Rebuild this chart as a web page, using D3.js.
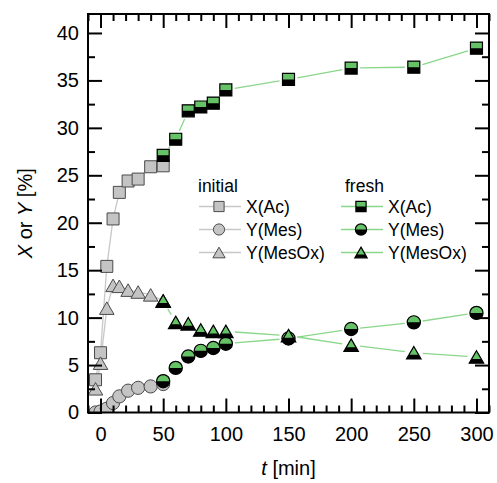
<!DOCTYPE html>
<html><head><meta charset="utf-8">
<script src="https://cdn.jsdelivr.net/npm/d3@7"></script>
<style>
body{margin:0;background:#fff;}
text{font-family:"Liberation Sans",Arial,sans-serif;}
</style></head>
<body><div id="chart"></div>
<script>
// ---- data ----
const timesInit = [-4, 0, 5, 10, 15, 22, 30, 40, 50];
const xAcInit = [3.45, 6.3, 15.4, 20.4, 23.2, 24.4, 24.6, 25.9, 26.0];
const yMesInit = [0, 0.1, 0.4, 1.0, 1.7, 2.3, 2.6, 2.75, 3.0];
const yMesOxInit = [2.5, 5.2, 11.0, 13.4, 13.3, 12.9, 12.7, 12.4, 11.8];

const timesFresh = [50, 60, 70, 80, 90, 100, 150, 200, 250, 300];
const xAcFresh = [27.1, 28.8, 31.8, 32.2, 32.6, 34.0, 35.1, 36.3, 36.4, 38.4];
const yMesFresh = [3.3, 4.7, 5.9, 6.5, 6.8, 7.25, 7.8, 8.8, 9.5, 10.5];
const yMesOxFresh = [11.75, 9.5, 9.35, 8.7, 8.55, 8.55, 8.1, 7.1, 6.3, 5.85];

const xTicks = [0, 50, 100, 150, 200, 250, 300];
const yTicks = [0, 5, 10, 15, 20, 25, 30, 35, 40];
const seriesNames = ["X(Ac)", "Y(Mes)", "Y(MesOx)"];
const groupNames = ["initial", "fresh"];

// ---- setup ----
const W = 497, H = 483;
const L = 88, R = 489, T = 14, B = 412.5;
const svg = d3.select("#chart").append("svg").attr("width", W).attr("height", H);
const x = d3.scaleLinear().domain([-10, 310]).range([L, R]);
const y = d3.scaleLinear().domain([0, 42]).range([B, T]);

const GREEN = "#66c266", GREENLINE = "#8ad68a", GRAY = "#c4c4c4", GRAYSTROKE = "#4a4a4a", GRAYLINE = "#c8c8c8";

const defs = svg.append("defs");
defs.append("clipPath").attr("id", "plot").append("rect")
  .attr("x", L).attr("y", T).attr("width", R - L).attr("height", B - T);
defs.append("clipPath").attr("id", "topHalf").attr("clipPathUnits", "userSpaceOnUse")
  .append("rect").attr("x", -20).attr("y", -20).attr("width", 40).attr("height", 20);
defs.append("clipPath").attr("id", "topTri").attr("clipPathUnits", "userSpaceOnUse")
  .append("rect").attr("x", -20).attr("y", -20).attr("width", 40).attr("height", 22);

function shapePath(kind, k) {
  k = k || 1;
  if (kind === 0) { const s = 12 * k / 2; return `M${-s},${-s}H${s}V${s}H${-s}Z`; }
  if (kind === 1) { const r = 6.6 * k; return `M${r},0A${r},${r} 0 1,1 ${-r},0A${r},${r} 0 1,1 ${r},0Z`; }
  const s = 14.5 * k, h = s * 0.866;
  return `M0,${-h / 2}L${s / 2},${h / 2}L${-s / 2},${h / 2}Z`;
}

function drawMarker(g, kind, fresh, k) {
  if (!fresh) {
    g.append("path").attr("d", shapePath(kind, k)).attr("fill", GRAY)
      .attr("stroke", GRAYSTROKE).attr("stroke-width", 1);
  } else {
    g.append("path").attr("d", shapePath(kind, k)).attr("fill", "#000");
    g.append("path").attr("d", shapePath(kind, k)).attr("fill", GREEN)
      .attr("clip-path", kind === 2 ? "url(#topTri)" : "url(#topHalf)");
    g.append("path").attr("d", shapePath(kind, k)).attr("fill", "none")
      .attr("stroke", "#000").attr("stroke-width", 1.2);
  }
}

const plot = svg.append("g").attr("clip-path", "url(#plot)");

function gapLines(times, vals, color, gap) {
  const pts = times.map((t, i) => [x(t), y(vals[i])]);
  for (let i = 0; i < pts.length - 1; i++) {
    const [x1, y1] = pts[i], [x2, y2] = pts[i + 1];
    const dx = x2 - x1, dy = y2 - y1, len = Math.hypot(dx, dy);
    if (len <= 2 * gap) continue;
    const ux = dx / len, uy = dy / len;
    plot.append("line")
      .attr("x1", x1 + ux * gap).attr("y1", y1 + uy * gap)
      .attr("x2", x2 - ux * gap).attr("y2", y2 - uy * gap)
      .attr("stroke", color).attr("stroke-width", 1.3);
  }
}

const initSeries = [xAcInit, yMesInit, yMesOxInit];
const freshSeries = [xAcFresh, yMesFresh, yMesOxFresh];

initSeries.forEach(v => gapLines(timesInit, v, GRAYLINE, 3));
freshSeries.forEach(v => gapLines(timesFresh, v, GREENLINE, 9));

initSeries.forEach((vals, s) => {
  timesInit.forEach((t, i) => {
    const g = plot.append("g").attr("transform", `translate(${x(t)},${y(vals[i])})`);
    drawMarker(g, s, false);
  });
});
freshSeries.forEach((vals, s) => {
  timesFresh.forEach((t, i) => {
    const g = plot.append("g").attr("transform", `translate(${x(t)},${y(vals[i])})`);
    drawMarker(g, s, true);
  });
});

// ---- axes ----
const xMinor = d3.range(-10, 311, 10).filter(v => v % 50 !== 0);
const yMinor = d3.range(2.5, 42, 5);

function styleAxis(g) {
  g.select(".domain").remove();
  g.selectAll(".tick line").attr("stroke", "#000").attr("stroke-width", 2);
  g.selectAll("text").attr("font-size", 20).attr("fill", "#000");
}
svg.append("g").attr("transform", `translate(0,${B})`)
  .call(d3.axisBottom(x).tickValues(xTicks).tickSize(-14).tickPadding(14)).call(styleAxis);
svg.append("g").attr("transform", `translate(0,${B})`)
  .call(d3.axisBottom(x).tickValues(xMinor).tickSize(-7).tickFormat("")).call(styleAxis);
svg.append("g").attr("transform", `translate(0,${T})`)
  .call(d3.axisTop(x).tickValues(xTicks).tickSize(-14).tickFormat("")).call(styleAxis);
svg.append("g").attr("transform", `translate(0,${T})`)
  .call(d3.axisTop(x).tickValues(xMinor).tickSize(-7).tickFormat("")).call(styleAxis);
svg.append("g").attr("transform", `translate(${L},0)`)
  .call(d3.axisLeft(y).tickValues(yTicks).tickSize(-14).tickPadding(9)).call(styleAxis);
svg.append("g").attr("transform", `translate(${L},0)`)
  .call(d3.axisLeft(y).tickValues(yMinor).tickSize(-7).tickFormat("")).call(styleAxis);
svg.append("g").attr("transform", `translate(${R},0)`)
  .call(d3.axisRight(y).tickValues(yTicks).tickSize(-14).tickFormat("")).call(styleAxis);
svg.append("g").attr("transform", `translate(${R},0)`)
  .call(d3.axisRight(y).tickValues(yMinor).tickSize(-7).tickFormat("")).call(styleAxis);

svg.append("rect").attr("x", L).attr("y", T).attr("width", R - L).attr("height", B - T)
  .attr("fill", "none").attr("stroke", "#000").attr("stroke-width", 2);

// ---- axis titles ----
const xt = svg.append("text").attr("x", (L + R) / 2).attr("y", 475)
  .attr("text-anchor", "middle").attr("font-size", 20);
xt.append("tspan").attr("font-style", "italic").text("t");
xt.append("tspan").text(" [min]");
const yt = svg.append("text").attr("transform", `translate(32,${(T + B) / 2}) rotate(-90)`)
  .attr("text-anchor", "middle").attr("font-size", 20);
yt.append("tspan").attr("font-style", "italic").text("X");
yt.append("tspan").text(" or ");
yt.append("tspan").attr("font-style", "italic").text("Y");
yt.append("tspan").text(" [%]");

// ---- legend ----
const legCols = [
  {tx: 198, lx: 199, fresh: false, color: GRAYLINE},
  {tx: 345, lx: 341, fresh: true, color: GREENLINE}
];
legCols.forEach((c, ci) => {
  svg.append("text").attr("x", c.tx).attr("y", 192).attr("font-size", 17.5).text(groupNames[ci]);
  seriesNames.forEach((nm, i) => {
    const yy = 206.5 + i * 23;
    svg.append("line").attr("x1", c.lx).attr("x2", c.lx + 42).attr("y1", yy).attr("y2", yy)
      .attr("stroke", c.color).attr("stroke-width", 1.3);
    const g = svg.append("g").attr("transform", `translate(${c.lx + 20},${yy})`);
    drawMarker(g, i, c.fresh, 0.85);
    svg.append("text").attr("x", c.lx + 47).attr("y", yy + 6.5).attr("font-size", 17.5).text(nm);
  });
});
</script></body></html>
